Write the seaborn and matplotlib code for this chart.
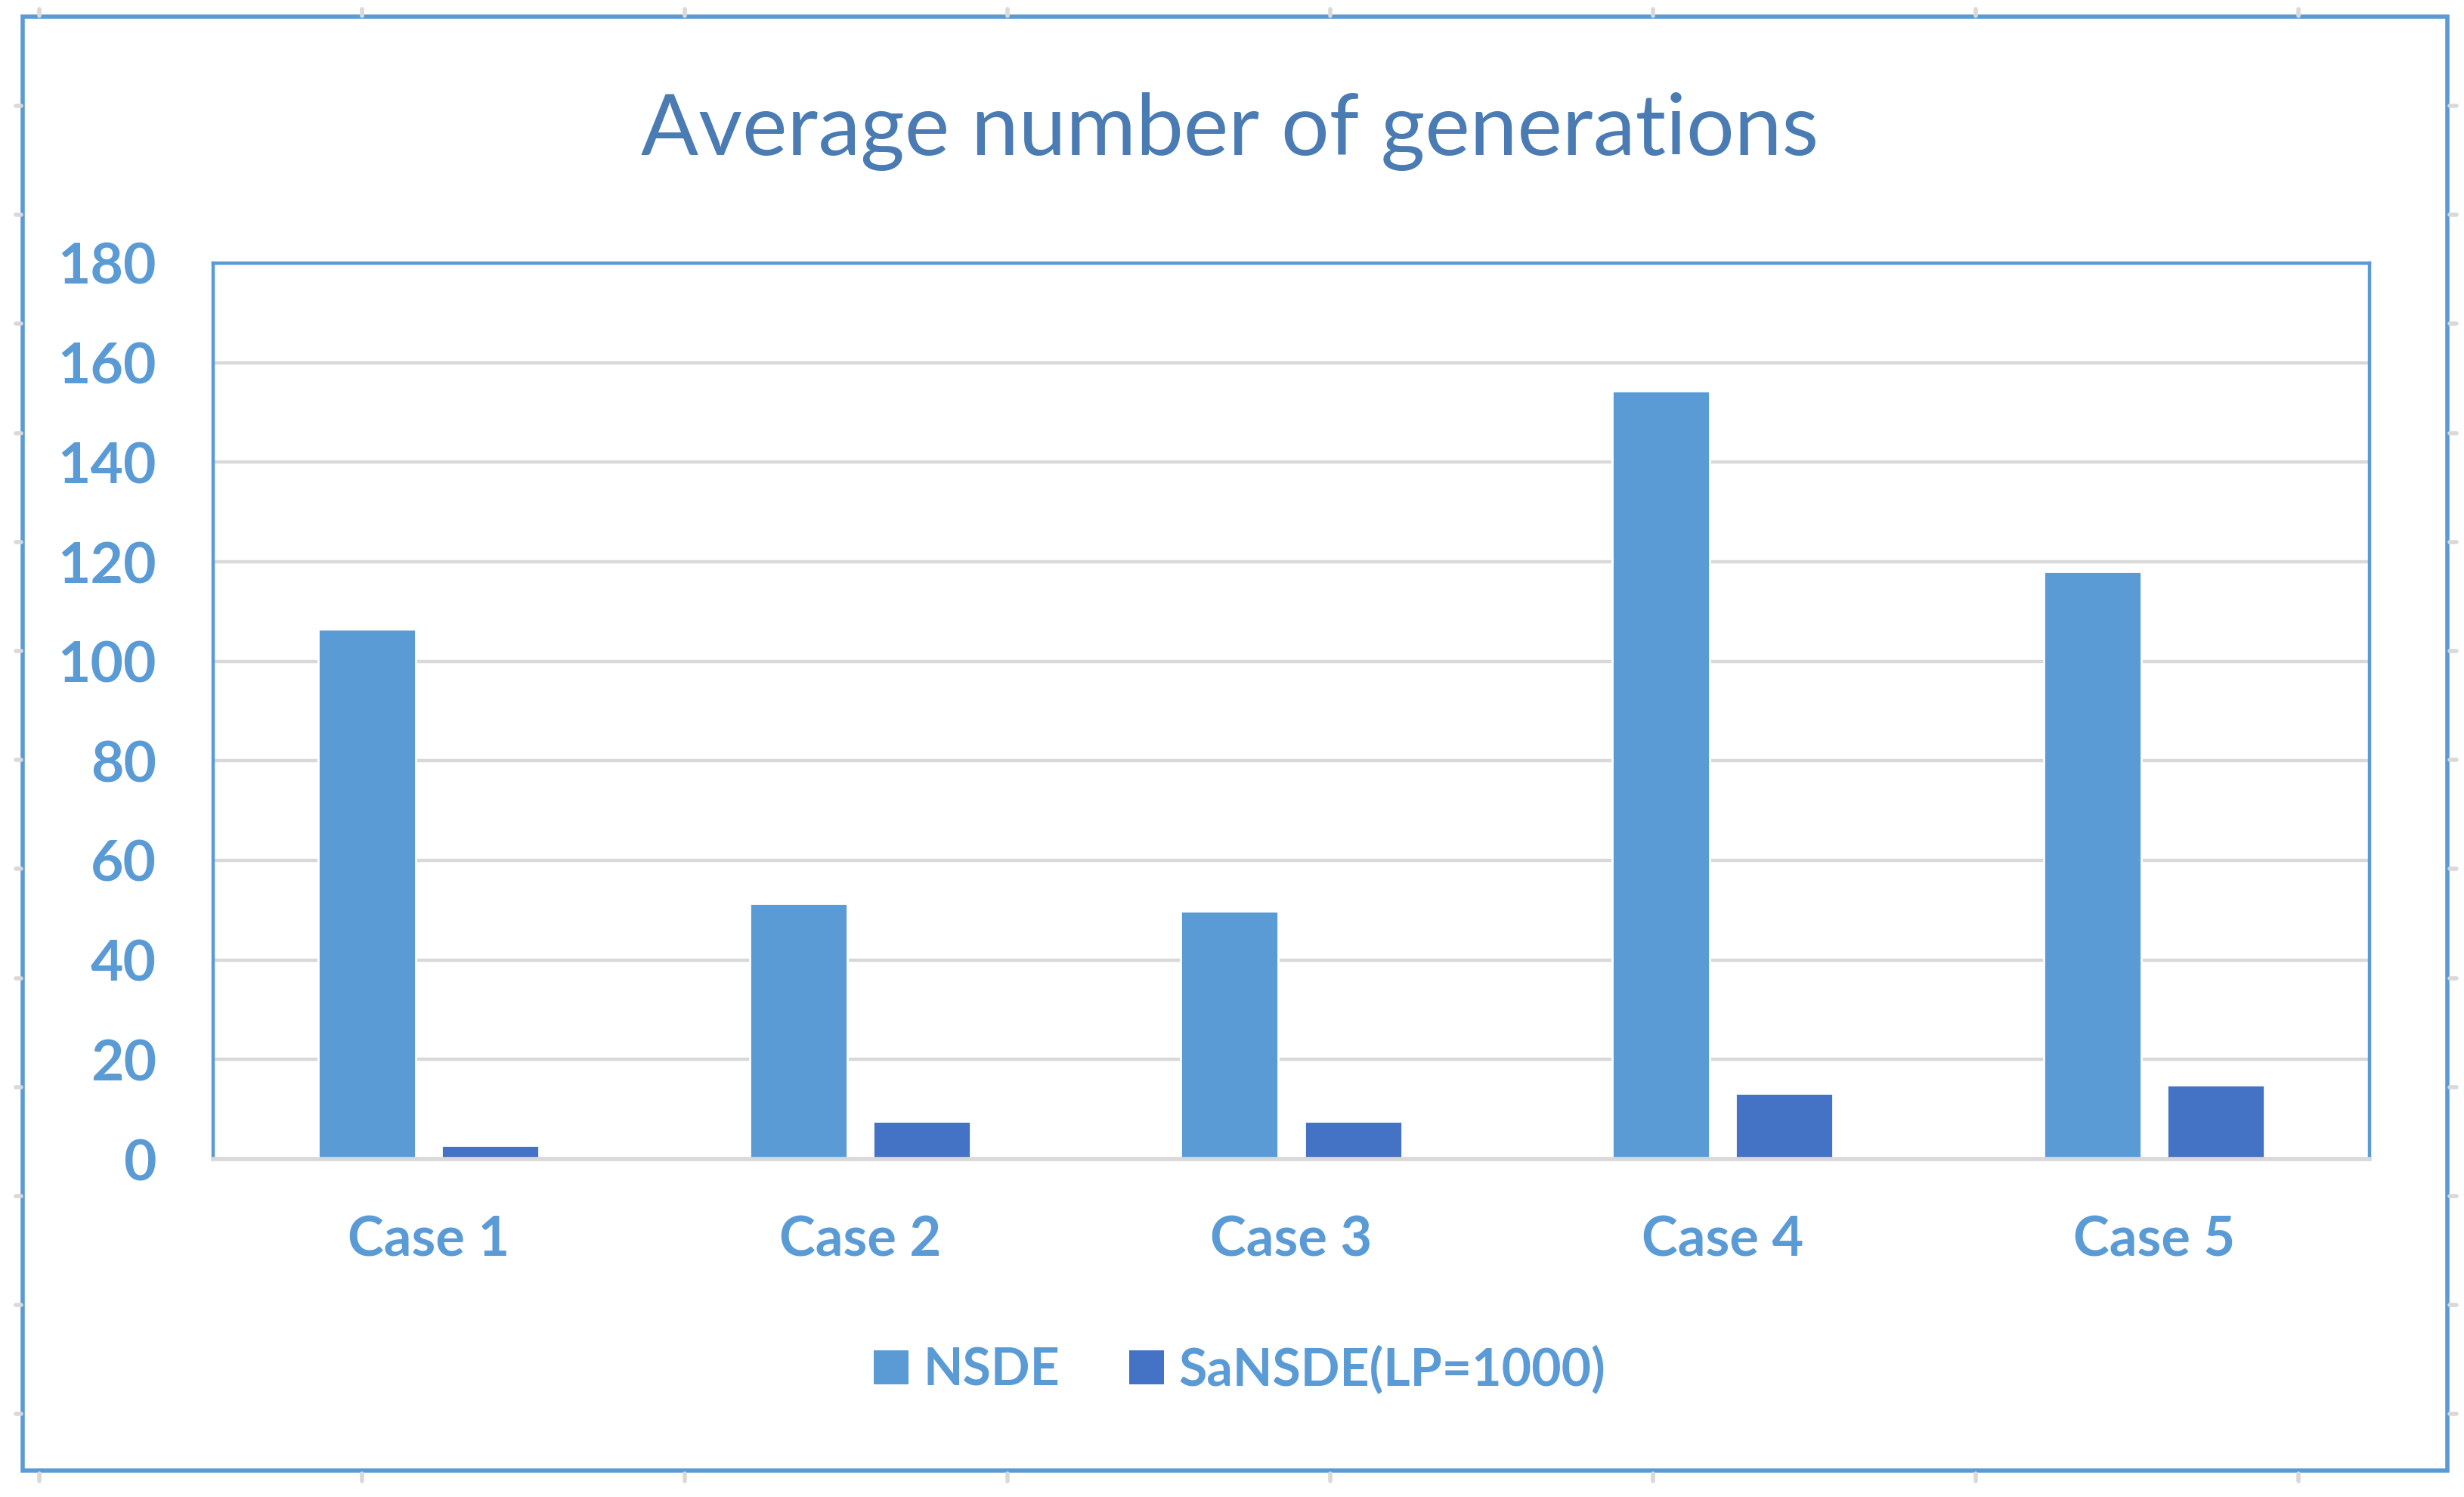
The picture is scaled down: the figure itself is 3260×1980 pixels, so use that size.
import matplotlib
matplotlib.use("Agg")
import matplotlib.pyplot as plt
import matplotlib.patches as mpatches
from matplotlib.lines import Line2D
import numpy as np
import pandas as pd
import seaborn as sns

# ---- data ----
cases = ["Case 1", "Case 2", "Case 3", "Case 4", "Case 5"]
series_names = ["NSDE", "SaNSDE(LP=1000)"]
nsde = [106.5, 51.3, 49.8, 154.3, 118.0]
sansde = [2.7, 7.6, 7.6, 13.2, 14.9]
yticks = [0, 20, 40, 60, 80, 100, 120, 140, 160, 180]
title = "Average number of generations"

colors = ["#5B9BD5", "#4472C4"]
label_color = "#5B9BD5"
title_color = "#4A7CB3"
grid_color = "#D9D9D9"

df = pd.DataFrame({
    "case": cases * 2,
    "value": nsde + sansde,
    "series": [series_names[0]] * len(cases) + [series_names[1]] * len(cases),
})

sns.set_theme(style="white")
plt.rcParams["font.family"] = ["Lato", "DejaVu Sans"]

W, H = 3260, 1980
dpi = 200
fig = plt.figure(figsize=(W / dpi, H / dpi), dpi=dpi)
fig.patch.set_facecolor("white")

ax = fig.add_axes([282 / W, 1 - 1533 / H, (3135 - 282) / W, (1533 - 348) / H])
sns.barplot(data=df, x="case", y="value", hue="series", palette=colors,
            width=0.572, gap=0.21, saturation=1, ax=ax, legend=False,
            order=cases, hue_order=series_names, zorder=2)

ax.set_ylim(0, 180)
ax.set_yticks(yticks)
ax.set_xlabel("")
ax.set_ylabel("")
ax.yaxis.grid(True, color=grid_color, linewidth=1.6, zorder=0)
ax.xaxis.grid(False)
ax.set_axisbelow(True)
for side in ["left", "top", "right"]:
    ax.spines[side].set_color("#5B9BD5")
    ax.spines[side].set_linewidth(1.6)
ax.spines["bottom"].set_color(grid_color)
ax.spines["bottom"].set_linewidth(2.0)
ax.spines["bottom"].set_zorder(3)

ax.tick_params(axis="both", length=0)
ax.tick_params(axis="y", pad=27, labelsize=27, labelcolor=label_color)
ax.tick_params(axis="x", pad=27, labelsize=26, labelcolor=label_color)
for lab in ax.get_yticklabels() + ax.get_xticklabels():
    lab.set_fontweight("bold")

# title
fig.text(1627 / W, 1 - 205 / H, title, ha="center", va="baseline",
         fontsize=40.5, color=title_color)

# legend
handles = [mpatches.Patch(facecolor=c, edgecolor="none") for c in colors]
leg = fig.legend(handles, series_names, loc="center", bbox_to_anchor=(1640 / W, 1 - 1812 / H),
                 ncol=2, frameon=False, fontsize=24.5, handlelength=0.68, handleheight=0.64,
                 handletextpad=0.28, columnspacing=1.35)
for t in leg.get_texts():
    t.set_color(label_color)
    t.set_fontweight("bold")

# outer chart border
fig.add_artist(mpatches.Rectangle((30 / W, 1 - 1945 / H), (3238 - 30) / W, (1945 - 22) / H,
                                  transform=fig.transFigure, fill=False,
                                  edgecolor="#5B9BD5", linewidth=2.0))

# small gray marks outside the chart border
mark_kw = dict(transform=fig.transFigure, color=grid_color, linewidth=2.0)
for xp in np.arange(52, 3200, 427):
    fig.add_artist(Line2D([xp / W, xp / W], [1 - 12 / H, 1 - 21 / H], **mark_kw))
    fig.add_artist(Line2D([xp / W, xp / W], [1 - 1949 / H, 1 - 1959 / H], **mark_kw))
for yp in np.arange(140, 1900, 144.2):
    fig.add_artist(Line2D([21 / W, 28 / W], [1 - yp / H, 1 - yp / H], **mark_kw))
    fig.add_artist(Line2D([3241 / W, 3250 / W], [1 - yp / H, 1 - yp / H], **mark_kw))

fig.savefig("out.png", dpi=dpi, facecolor="white")
